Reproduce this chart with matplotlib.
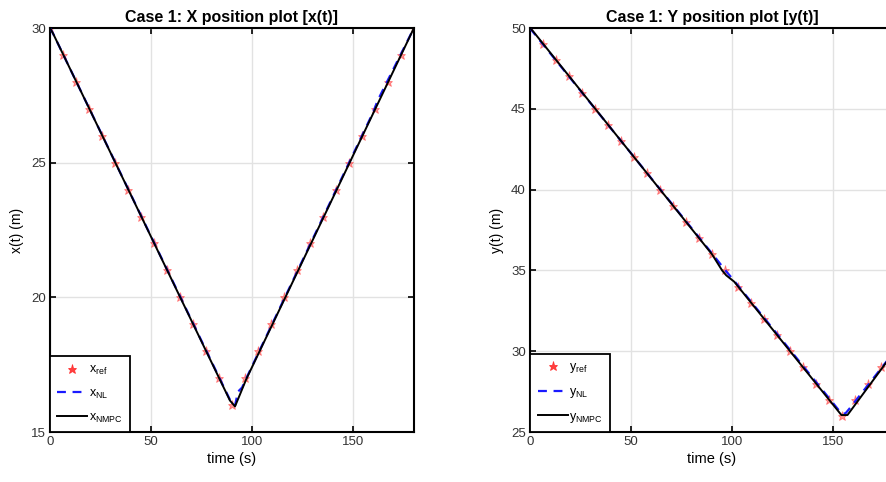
import matplotlib
matplotlib.use("Agg")
import matplotlib.pyplot as plt

plt.rcParams["font.family"] = ["Liberation Sans", "DejaVu Sans"]
plt.rcParams["mathtext.fontset"] = "custom"
plt.rcParams["mathtext.rm"] = "Liberation Sans"
plt.rcParams["mathtext.it"] = "Liberation Sans"

# reference samples (29 waypoints over 180 s)
t_ref = [0.0, 6.43, 12.86, 19.29, 25.71, 32.14, 38.57, 45.0, 51.43, 57.86,
         64.29, 70.71, 77.14, 83.57, 90.0, 96.43, 102.86, 109.29, 115.71,
         122.14, 128.57, 135.0, 141.43, 147.86, 154.29, 160.71, 167.14,
         173.57, 180.0]
x_ref = [30, 29, 28, 27, 26, 25, 24, 23, 22, 21, 20, 19, 18, 17, 16,
         17, 18, 19, 20, 21, 22, 23, 24, 25, 26, 27, 28, 29, 30]
y_ref = [50, 49, 48, 47, 46, 45, 44, 43, 42, 41, 40, 39, 38, 37, 36,
         35, 34, 33, 32, 31, 30, 29, 28, 27, 26, 27, 28, 29, 30]

# simulated trajectories
t_x_nl = [0.0, 1.5, 89.0, 91.5, 93.0, 95.0, 97.0, 160.0, 162.0, 180.0]
x_nl = [30.0, 29.8, 16.2, 15.98, 16.5, 16.65, 16.98, 26.9, 27.3, 30.0]
t_x_nmpc = [0.0, 1.5, 89.0, 91.5, 94.0, 97.0, 180.0]
x_nmpc = [30.0, 29.8, 16.17, 15.95, 16.4, 16.95, 30.0]

t_y_nl = [0.0, 1.5, 90.0, 96.0, 101.0, 154.0, 156.0, 158.0, 180.0]
y_nl = [50.0, 49.75, 36.05, 35.1, 34.35, 26.15, 26.15, 26.45, 29.95]
t_y_nmpc = [0.0, 1.5, 90.0, 95.0, 97.0, 101.0, 154.0, 157.0, 180.0]
y_nmpc = [50.0, 49.8, 36.0, 35.0, 34.7, 34.3, 26.05, 26.05, 29.95]

fig = plt.figure(figsize=(8.86, 4.82), dpi=100)
ax1 = fig.add_axes([0.0564, 0.1037, 0.4108, 0.8382])
ax2 = fig.add_axes([0.5982, 0.1037, 0.4108, 0.8382])


def style_axes(ax, ylim, yticks):
    ax.set_xlim(0, 180)
    ax.set_ylim(*ylim)
    ax.set_xticks([0, 50, 100, 150])
    ax.set_yticks(yticks)
    ax.grid(True, color="#e2e2e2", linewidth=1.0)
    ax.set_axisbelow(True)
    ax.tick_params(direction="in", top=True, right=True, length=4,
                   width=1.2, labelsize=9.5, pad=3, labelcolor="#333333")
    for sp in ax.spines.values():
        sp.set_linewidth(1.5)
    ax.set_xlabel("time (s)", fontsize=10.5, labelpad=3)


def draw(ax, t_nl, v_nl, t_mpc, v_mpc, ref, name):
    ax.plot(t_ref, ref, linestyle="none", marker="*", markersize=6.5,
            color="#ff2a2a", alpha=0.5, markeredgewidth=0.6,
            label=r"$%s_{ref}$" % name, zorder=2)
    ax.plot(t_nl, v_nl, color="#1a1aff", linestyle=(0, (4, 3)),
            linewidth=1.6, label=r"$%s_{NL}$" % name, zorder=3)
    ax.plot(t_mpc, v_mpc, color="black", linewidth=1.4,
            label=r"$%s_{NMPC}$" % name, zorder=4)
    leg = ax.legend(loc="lower left", borderaxespad=0, fontsize=9,
                    fancybox=False, framealpha=1, handlelength=2.4,
                    handletextpad=0.1, labelspacing=0.85, borderpad=0.6)
    leg.get_frame().set_edgecolor("black")
    leg.get_frame().set_linewidth(1.3)
    for h in leg.legend_handles[:1]:
        h.set_alpha(0.9)


style_axes(ax1, (15, 30), [15, 20, 25, 30])
draw(ax1, t_x_nl, x_nl, t_x_nmpc, x_nmpc, x_ref, "x")
ax1.set_title("Case 1: X position plot [x(t)]", fontsize=11.5,
              fontweight="bold", pad=4)
ax1.set_ylabel("x(t) (m)", fontsize=10, labelpad=5)

style_axes(ax2, (25, 50), [25, 30, 35, 40, 45, 50])
draw(ax2, t_y_nl, y_nl, t_y_nmpc, y_nmpc, y_ref, "y")
ax2.set_title("Case 1: Y position plot [y(t)]", fontsize=11.5,
              fontweight="bold", pad=4)
ax2.set_ylabel("y(t) (m)", fontsize=10, labelpad=5)

fig.savefig("out.png", dpi=100)
